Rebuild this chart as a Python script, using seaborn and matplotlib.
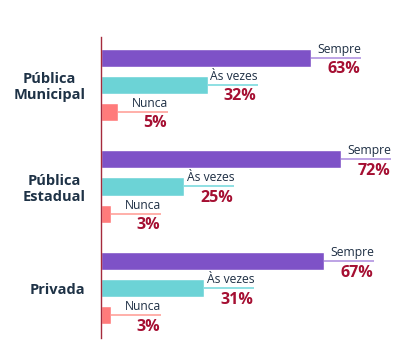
import matplotlib.pyplot as plt
import seaborn as sns
import pandas as pd

# data
escolas = ['Pública\nMunicipal', 'Pública\nEstadual', 'Privada']
respostas = ['Sempre', 'Às vezes', 'Nunca']
sempre = [63, 72, 67]
as_vezes = [32, 25, 31]
nunca = [5, 3, 3]

cores = ['#7e52c7', '#6cd3d6', '#ff7b7b']
cores_linha = ['#b79ce3', '#86dde0', '#ffa9a3']

df = pd.DataFrame({
    'escola': escolas * 3,
    'resposta': [r for r in respostas for _ in escolas],
    'valor': sempre + as_vezes + nunca,
})

sns.set_style('white')
plt.rcParams['font.family'] = ['Open Sans', 'DejaVu Sans']

fig = plt.figure(figsize=(4.01, 3.5), dpi=100)
ax = fig.add_axes([101 / 401, 12 / 350, 300 / 401, 301 / 350])

sns.barplot(data=df, y='escola', x='valor', hue='resposta', order=escolas,
            hue_order=respostas, palette=cores, orient='h', gap=0.33,
            ax=ax, legend=False, saturation=1)

# rotulos ao lado de cada barra
ext = 15
for i, serie in enumerate([sempre, as_vezes, nunca]):
    for j, v in enumerate(serie):
        y = j + (i - 1) * 0.8 / 3
        ax.plot([v, v + ext], [y, y], color=cores_linha[i], lw=1.3,
                solid_capstyle='butt', zorder=1)
        ax.text(v + ext, y - 0.02, respostas[i], ha='right', va='bottom',
                fontsize=8.7, color='#1e2f44')
        ax.text(v + ext - 0.3, y + 0.035, f'{v}%', ha='right', va='top',
                fontsize=11.5, fontweight='bold', color='#a50f32')

ax.set_xlim(0, 90)
ax.set_ylim(2.49, -0.47)
ax.set_xlabel('')
ax.set_ylabel('')
ax.set_xticks([])
for s in ['top', 'right', 'bottom']:
    ax.spines[s].set_visible(False)
ax.spines['left'].set_color('#a52a3c')
ax.spines['left'].set_linewidth(1)
ax.tick_params(axis='y', length=0, pad=11)
for t in ax.get_yticklabels():
    t.set_fontweight('bold')
    t.set_fontsize(10.5)
    t.set_color('#1e3246')
    t.set_multialignment('center')

plt.savefig('out.png', dpi=100)
plt.close()
